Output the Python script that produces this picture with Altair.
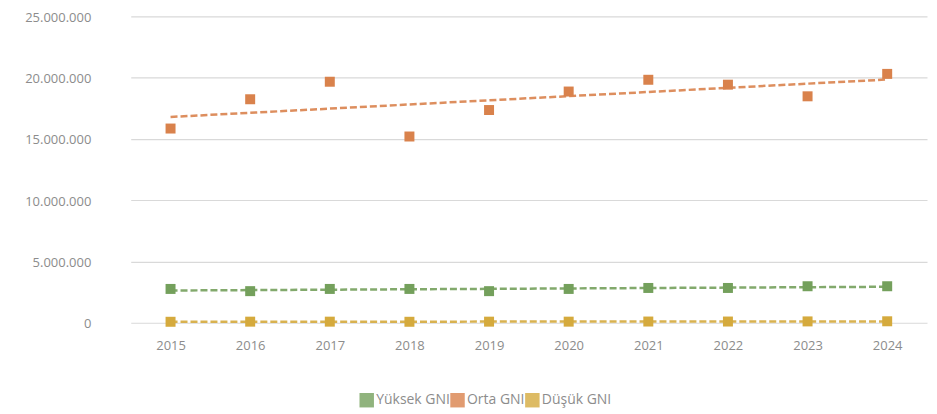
import altair as alt
import pandas as pd

years = [2015, 2016, 2017, 2018, 2019, 2020, 2021, 2022, 2023, 2024]
series_names = ["Yüksek GNI", "Orta GNI", "Düşük GNI"]
yuksek = [2760000, 2580000, 2760000, 2760000, 2580000, 2760000, 2840000, 2840000, 2980000, 2980000]
orta = [15850000, 18240000, 19670000, 15200000, 17360000, 18870000, 19830000, 19430000, 18480000, 20310000]
dusuk = [80000, 90000, 90000, 80000, 90000, 90000, 100000, 100000, 110000, 120000]
colors = ["#74a05c", "#d9824c", "#d5aa3d"]
y_ticks = [0, 5000000, 10000000, 15000000, 20000000, 25000000]

rows = []
for name, vals in zip(series_names, [yuksek, orta, dusuk]):
    for yr, v in zip(years, vals):
        rows.append({"year": yr, "value": v, "series": name})
df = pd.DataFrame(rows)

FONT = "Open Sans"
GRAY = "#8c8c8c"

x = alt.X("year:Q",
          scale=alt.Scale(domain=[2014.5, 2024.5], nice=False, zero=False),
          axis=alt.Axis(values=years, format="d", title=None, grid=False, domain=False,
                        ticks=False, labelPadding=17, labelColor=GRAY, labelFontSize=13,
                        labelFont=FONT))
y = alt.Y("value:Q",
          scale=alt.Scale(domain=[0, 25000000], nice=False),
          axis=alt.Axis(values=y_ticks, title=None, domain=False, ticks=False,
                        labelPadding=40, labelColor=GRAY, labelFontSize=13, labelFont=FONT,
                        labelOffset=1,
                        gridColor="#d9d9d9", gridWidth=1.2,
                        labelExpr="replace(format(datum.value, ',d'), /,/g, '.')"))
color = alt.Color("series:N",
                  scale=alt.Scale(domain=series_names, range=colors),
                  legend=alt.Legend(title=None, orient="none", direction="horizontal",
                                    legendX=229, legendY=377, symbolType="square",
                                    symbolSize=210, symbolOpacity=0.8, symbolStrokeWidth=0,
                                    labelFont=FONT, labelFontSize=14, labelColor=GRAY,
                                    labelOffset=2, columnPadding=0))

points = alt.Chart(df).mark_point(shape="square", filled=True, size=100, opacity=1).encode(
    x=x, y=y, color=color)

trend = alt.Chart(df).transform_regression(
    "year", "value", groupby=["series"], method="linear"
).mark_line(strokeDash=[7, 3], strokeWidth=2.5, opacity=0.9).encode(
    x=x, y=y, color=alt.Color("series:N", scale=alt.Scale(domain=series_names, range=colors), legend=None))

chart = alt.layer(points, trend).properties(
    width=798, height=307,
    padding={"left": 123, "top": 8, "right": 2, "bottom": 90},
    autosize=alt.AutoSizeParams(type="none"),
).configure_view(stroke=None)

chart.save("out.html", embed_options={"renderer": "svg", "actions": False})
